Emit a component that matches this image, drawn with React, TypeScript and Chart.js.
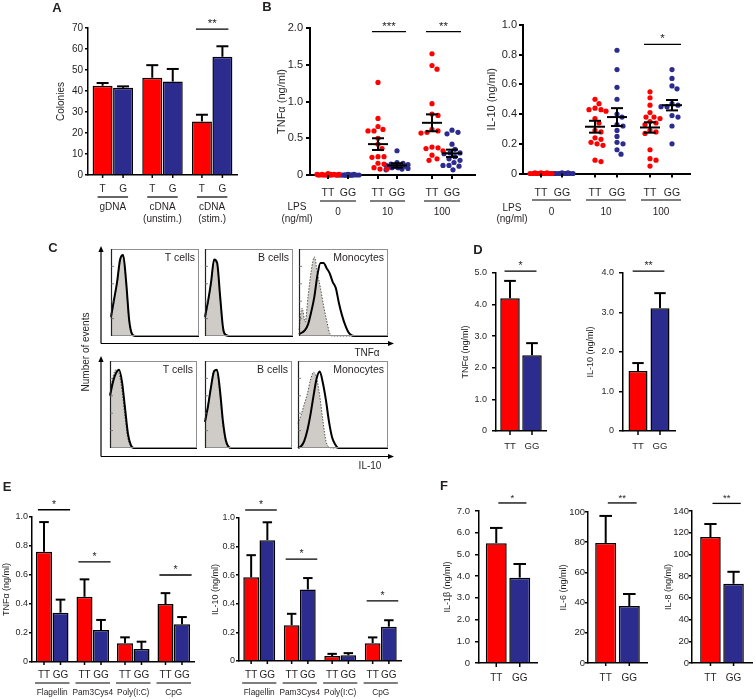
import React, { useEffect, useRef } from "react";
import { Chart, registerables } from "chart.js";

Chart.register(...registerables);

const W = 756;
const H = 699;
const FONT = "'Liberation Sans', Arial, Helvetica, sans-serif";
const RED = "#ff0000";
const BLUE = "#2c2c8e";
const INK = "#231f20";
const FILL = "#cfcbc6";
Chart.defaults.font.family = FONT;

/* ================= DATA ================= */
// Panel A
const aGroups = ["gDNA", "cDNA\n(unstim.)", "cDNA\n(stim.)"];
const aSubLabels = ["T", "G"];
const aT = [42.5, 46.3, 25.5];
const aG = [41.5, 44.5, 56.3];
const aTErr = [1.3, 6.0, 3.2];
const aGErr = [0.7, 6.0, 5.0];
const aTicks = [0, 10, 20, 30, 40, 50, 60, 70];

// Panel B
const bGroupLabels = ["0", "10", "100"];
const bSubLabels = ["TT", "GG", "TT", "GG", "TT", "GG"];
const bTnfTicks = [0, 0.5, 1.0, 1.5, 2.0];
const bIl10Ticks = [0, 0.2, 0.4, 0.6, 0.8, 1.0];
const bTnfTT0 = [0.01, 0, 0.01, 0, 0, 0.01, 0, 0, 0.02, 0, 0, 0.01, 0, 0, 0, 0.01, 0];
const bTnfGG0 = [0, 0, 0, 0.01, 0, 0, 0, 0, 0.01, 0, 0, 0, 0, 0, 0, 0];
const bTnfTT10 = [1.26, 0.77, 0.66, 0.62, 0.6, 0.6, 0.5, 0.42, 0.36, 0.25, 0.25, 0.24, 0.16, 0.15, 0.1, 0.08, 0.08];
const bTnfGG10 = [0.33, 0.17, 0.16, 0.15, 0.14, 0.13, 0.13, 0.12, 0.12, 0.11, 0.1, 0.1, 0.09, 0.08, 0.07];
const bTnfTT100 = [1.65, 1.49, 1.44, 0.97, 0.83, 0.81, 0.62, 0.6, 0.58, 0.57, 0.38, 0.37, 0.36, 0.33, 0.27, 0.22, 0.2];
const bTnfGG100 = [0.61, 0.58, 0.56, 0.42, 0.35, 0.3, 0.3, 0.29, 0.25, 0.22, 0.2, 0.17, 0.13, 0.13, 0.12, 0.07];
const bTnfMean = [0, 0, 0.42, 0.13, 0.71, 0.295];
const bTnfSem = [0, 0, 0.08, 0.03, 0.115, 0.05];
const bIl10TT0 = [0, 0, 0.005, 0, 0, 0, 0.005, 0, 0, 0, 0, 0.005, 0, 0, 0, 0, 0];
const bIl10GG0 = [0, 0, 0, 0.005, 0, 0, 0, 0, 0, 0.005, 0, 0, 0, 0];
const bIl10TT10 = [0.5, 0.47, 0.44, 0.43, 0.43, 0.42, 0.37, 0.34, 0.29, 0.28, 0.24, 0.23, 0.21, 0.2, 0.19, 0.09, 0.08];
const bIl10GG10 = [0.83, 0.7, 0.58, 0.5, 0.4, 0.38, 0.33, 0.32, 0.29, 0.25, 0.21, 0.2, 0.16, 0.13];
const bIl10TT100 = [0.55, 0.51, 0.46, 0.41, 0.38, 0.38, 0.37, 0.35, 0.34, 0.33, 0.29, 0.28, 0.27, 0.16, 0.1, 0.09, 0.05];
const bIl10GG100 = [0.7, 0.64, 0.59, 0.57, 0.47, 0.46, 0.45, 0.45, 0.39, 0.38, 0.32, 0.2];
const bIl10Mean = [0, 0, 0.315, 0.38, 0.31, 0.46];
const bIl10Sem = [0, 0, 0.04, 0.06, 0.035, 0.035];

// Panel C (histogram heights, % of max, left to right)
const cTnfTStim = [22, 42, 62, 88, 93, 62, 18, 2, 0, 0, 0, 0, 0, 0, 0, 0, 0, 0, 0, 0, 0, 0, 0, 0, 0, 0, 0, 0, 0, 0];
const cTnfTCtrl = [20, 40, 60, 86, 92, 60, 16, 1, 0, 0, 0, 0, 0, 0, 0, 0, 0, 0, 0, 0, 0, 0, 0, 0, 0, 0, 0, 0, 0, 0];
const cTnfBStim = [22, 40, 62, 88, 84, 45, 8, 1, 0, 0, 0, 0, 0, 0, 0, 0, 0, 0, 0, 0, 0, 0, 0, 0, 0, 0, 0, 0, 0, 0];
const cTnfBCtrl = [20, 38, 60, 86, 82, 42, 6, 0, 0, 0, 0, 0, 0, 0, 0, 0, 0, 0, 0, 0, 0, 0, 0, 0, 0, 0, 0, 0, 0, 0];
const cTnfMStim = [2, 4, 7, 14, 28, 45, 70, 84, 84, 78, 72, 62, 55, 38, 24, 13, 5, 1, 0, 0, 0, 0, 0, 0, 0, 0, 0, 0, 0, 0];
const cTnfMCtrl = [7, 32, 16, 47, 75, 91, 72, 55, 35, 18, 3, 0, 0, 0, 0, 0, 0, 0, 0, 0, 0, 0, 0, 0, 0, 0, 0, 0, 0, 0];
const cIl10TStim = [60, 76, 86, 90, 76, 46, 16, 3, 0, 0, 0, 0, 0, 0, 0, 0, 0, 0, 0, 0, 0, 0, 0, 0, 0, 0, 0, 0, 0, 0];
const cIl10TCtrl = [62, 82, 90, 86, 66, 36, 10, 2, 0, 0, 0, 0, 0, 0, 0, 0, 0, 0, 0, 0, 0, 0, 0, 0, 0, 0, 0, 0, 0, 0];
const cIl10BStim = [30, 48, 70, 88, 90, 66, 30, 8, 1, 0, 0, 0, 0, 0, 0, 0, 0, 0, 0, 0, 0, 0, 0, 0, 0, 0, 0, 0, 0, 0];
const cIl10BCtrl = [30, 50, 72, 90, 88, 62, 26, 6, 0, 0, 0, 0, 0, 0, 0, 0, 0, 0, 0, 0, 0, 0, 0, 0, 0, 0, 0, 0, 0, 0];
const cIl10MStim = [0, 2, 8, 20, 38, 60, 80, 88, 75, 55, 30, 12, 4, 0, 0, 0, 0, 0, 0, 0, 0, 0, 0, 0, 0, 0, 0, 0, 0, 0];
const cIl10MCtrl = [28, 38, 50, 62, 78, 87, 80, 60, 32, 8, 1, 0, 0, 0, 0, 0, 0, 0, 0, 0, 0, 0, 0, 0, 0, 0, 0, 0, 0, 0];

// Panel D
const dSubLabels = ["TT", "GG"];
const dTnf = [4.2, 2.4];
const dTnfErr = [0.55, 0.38];
const dIl10 = [1.52, 3.11];
const dIl10Err = [0.2, 0.38];
const dTnfTicks = [0, 1, 2, 3, 4, 5];
const dIl10Ticks = [0, 1, 2, 3, 4];

// Panel E
const eGroups = ["Flagellin", "Pam3Cys4", "Poly(I:C)", "CpG"];
const eTnfTT = [0.76, 0.45, 0.13, 0.4];
const eTnfTTErr = [0.205, 0.12, 0.04, 0.075];
const eTnfGG = [0.34, 0.22, 0.09, 0.26];
const eTnfGGErr = [0.09, 0.07, 0.05, 0.05];
const eIl10TT = [0.585, 0.25, 0.035, 0.125];
const eIl10TTErr = [0.155, 0.08, 0.015, 0.04];
const eIl10GG = [0.845, 0.5, 0.04, 0.24];
const eIl10GGErr = [0.125, 0.08, 0.015, 0.045];
const eTicks = [0, 0.2, 0.4, 0.6, 0.8, 1.0];

// Panel F
const f1b = [5.52, 3.93];
const f1bErr = [0.7, 0.63];
const f6 = [79.5, 37.7];
const f6Err = [17.9, 8.0];
const f8 = [116, 73];
const f8Err = [12, 11];
const f1bTicks = [0, 1, 2, 3, 4, 5, 6, 7];
const f6Ticks = [0, 20, 40, 60, 80, 100];
const f8Ticks = [0, 20, 40, 60, 80, 100, 120, 140];

/* ================= HELPERS ================= */
const fmtInt = (v: number) => String(Math.round(v));
const fmt1 = (v: number) => (v === 0 ? "0" : v.toFixed(1));

function txt(ctx: any, s: string, x: number, y: number, size: number, o: any = {}) {
  ctx.save();
  ctx.font = `${o.bold ? "bold " : ""}${size}px ${FONT}`;
  ctx.fillStyle = o.color || INK;
  ctx.textAlign = o.align || "center";
  ctx.textBaseline = o.base || "middle";
  ctx.translate(x, y);
  if (o.rot) ctx.rotate(o.rot);
  ctx.fillText(s, 0, 0);
  ctx.restore();
}
function seg(ctx: any, x1: number, y1: number, x2: number, y2: number, w: number, color = "#000") {
  ctx.save();
  ctx.strokeStyle = color;
  ctx.lineWidth = w;
  ctx.beginPath();
  ctx.moveTo(x1, y1);
  ctx.lineTo(x2, y2);
  ctx.stroke();
  ctx.restore();
}
function arrow(ctx: any, x1: number, y1: number, x2: number, y2: number) {
  seg(ctx, x1, y1, x2, y2, 1.2);
  const ang = Math.atan2(y2 - y1, x2 - x1);
  ctx.save();
  ctx.fillStyle = "#000";
  ctx.translate(x2, y2);
  ctx.rotate(ang);
  ctx.beginPath();
  ctx.moveTo(2, 0);
  ctx.lineTo(-4, -2.6);
  ctx.lineTo(-4, 2.6);
  ctx.closePath();
  ctx.fill();
  ctx.restore();
}
function drawExtras(ctx: any, ex?: any[]) {
  (ex || []).forEach((t) => txt(ctx, t.s, t.x, t.y, t.size, t));
}

function baseOptions(rect: any, yw: number) {
  return {
    responsive: false,
    animation: false,
    devicePixelRatio: 1,
    events: [],
    layout: { padding: { left: rect.l - yw, top: rect.t, right: W - rect.r, bottom: H - rect.b } },
    plugins: { legend: { display: false }, tooltip: { enabled: false } },
  };
}

function yScaleOpts(s: any, yw: number) {
  const ticks: number[] = s.ticks;
  return {
    type: "linear",
    position: "left",
    min: ticks[0],
    max: ticks[ticks.length - 1],
    afterBuildTicks: (sc: any) => {
      sc.ticks = ticks.map((v) => ({ value: v }));
    },
    afterFit: (sc: any) => {
      sc.width = yw;
    },
    ticks: {
      callback: (v: any) => s.fmt(Number(v)),
      color: INK,
      font: { family: FONT, size: s.tickSize },
      padding: s.tickPad,
      autoSkip: false,
      maxRotation: 0,
    },
    grid: { display: true, drawOnChartArea: false, drawTicks: true, tickLength: s.tickLen, color: "#000", lineWidth: s.bw },
    border: { display: true, color: "#000", width: s.bw },
    title: { display: true, text: s.title, color: INK, font: { family: FONT, size: s.titleSize }, padding: 0 },
  };
}

function xHidden(type: string, bw: number, extra: any = {}) {
  return {
    type,
    offset: type === "category",
    afterFit: (sc: any) => {
      sc.height = 0;
    },
    ticks: { display: false },
    grid: { display: false },
    border: { display: true, color: "#000", width: bw },
    ...extra,
  };
}

// beeswarm-like horizontal placement (pixel offsets) for a column of points
function swarm(values: number[], ppu: number, diam: number, maxHalf: number) {
  const order = values.map((_, i) => i).sort((a, b) => values[b] - values[a]);
  const placed: { x: number; y: number }[] = [];
  const off = new Array(values.length).fill(0);
  const cands: number[] = [0];
  for (let k = 1; k <= maxHalf; k++) cands.push(k, -k);
  for (const i of order) {
    const y = values[i] * ppu;
    let best = 0;
    let bestScore = -1;
    for (const c of cands) {
      let minD = Infinity;
      for (const p of placed) {
        const d = Math.hypot(p.x - c, p.y - y);
        if (d < minD) minD = d;
      }
      if (minD >= diam) {
        best = c;
        break;
      }
      if (minD > bestScore + 0.01) {
        bestScore = minD;
        best = c;
      }
    }
    off[i] = best;
    placed.push({ x: best, y });
  }
  return off;
}

/* ---------- bar charts ---------- */
function barDeco(s: any) {
  return {
    id: "barDeco",
    afterDatasetsDraw(chart: any) {
      const ctx = chart.ctx;
      const ys = chart.scales.y;
      const base = chart.chartArea.bottom;
      const metas = s.series.map((_: any, di: number) => chart.getDatasetMeta(di));
      metas.forEach((meta: any, di: number) =>
        meta.data.forEach((el: any, j: number) => {
          const v = s.series[di][j];
          const e = s.errs[di][j];
          const yv = ys.getPixelForValue(v);
          const yt = ys.getPixelForValue(v + e);
          const half = el.width * s.capFrac;
          seg(ctx, el.x, yv, el.x, yt, s.errW);
          seg(ctx, el.x - half, yt, el.x + half, yt, s.errW);
          seg(ctx, el.x, base, el.x, base + s.tickLen, s.bw);
          txt(ctx, s.sub[di], el.x, base + s.subDy, s.subSize);
        })
      );
      s.groups.forEach((g: string, j: number) => {
        const x1 = metas[0].data[j].x;
        const x2 = metas[metas.length - 1].data[j].x;
        if (s.underline) {
          const y = base + s.underline.dy;
          seg(ctx, x1 - s.underline.ext, y, x2 + s.underline.ext, y, 1.2);
        }
        if (g) g.split("\n").forEach((t, k) => txt(ctx, t, (x1 + x2) / 2, base + s.groupDy + k * s.groupLineH, s.groupSize));
      });
      (s.sig || []).forEach((q: any) => {
        const e1 = metas[0].data[q.group];
        const e2 = metas[metas.length - 1].data[q.group];
        const y = ys.getPixelForValue(q.level);
        seg(ctx, e1.x - e1.width * s.sigExtL, y, e2.x + e2.width * s.sigExtR, y, 1.3);
        txt(ctx, q.label, (e1.x - e1.width * s.sigExtL + e2.x + e2.width * s.sigExtR) / 2, y - 2, s.sigSize, { base: "alphabetic" });
      });
      drawExtras(ctx, s.extras);
    },
  };
}

function barConfig(s: any) {
  const yw = s.rect.l - s.titleX + s.titleSize * 0.6;
  return {
    type: "bar",
    data: {
      labels: s.groups,
      datasets: s.series.map((vals: number[], i: number) => ({
        data: vals,
        backgroundColor: s.colors[i],
        borderColor: "#000",
        borderWidth: s.barBorder,
        borderSkipped: "bottom",
        categoryPercentage: s.catPct,
        barPercentage: s.barPct,
      })),
    },
    options: {
      ...baseOptions(s.rect, yw),
      scales: { x: xHidden("category", s.bw), y: yScaleOpts(s, yw) },
    },
    plugins: [barDeco(s)],
  };
}

/* ---------- scatter (dot plots) ---------- */
function dotDeco(s: any) {
  return {
    id: "dotDeco",
    afterDatasetsDraw(chart: any) {
      const ctx = chart.ctx;
      const xs = chart.scales.x;
      const ys = chart.scales.y;
      const base = chart.chartArea.bottom;
      const px = s.pos.map((p: number) => xs.getPixelForValue(p));
      px.forEach((x: number, k: number) => {
        seg(ctx, x, base, x, base + s.tickLen, s.bw);
        txt(ctx, s.sub[k], x, base + s.subDy, s.subSize);
        const m = s.mean[k];
        if (m > 0) {
          const ym = ys.getPixelForValue(m);
          const yt = ys.getPixelForValue(m + s.sem[k]);
          const yb = ys.getPixelForValue(m - s.sem[k]);
          seg(ctx, x - 10, ym, x + 10, ym, 2);
          seg(ctx, x, yt, x, yb, 2);
          seg(ctx, x - 6, yt, x + 6, yt, 2);
          seg(ctx, x - 6, yb, x + 6, yb, 2);
        }
      });
      s.groupLabels.forEach((g: string, j: number) => {
        const x1 = px[2 * j] - s.ulExt;
        const x2 = px[2 * j + 1] + s.ulExt;
        seg(ctx, x1, base + s.ulDy, x2, base + s.ulDy, 1.2);
        txt(ctx, g, (x1 + x2) / 2, base + s.groupDy, s.groupSize);
      });
      (s.sig || []).forEach((q: any) => {
        const x1 = px[2 * q.group] - 6;
        const x2 = px[2 * q.group + 1] + 9;
        const y = ys.getPixelForValue(q.level);
        seg(ctx, x1, y, x2, y, 1.3);
        txt(ctx, q.label, (x1 + x2) / 2, y - 2, s.sigSize, { base: "alphabetic" });
      });
      drawExtras(ctx, s.extras);
    },
  };
}

function dotConfig(s: any) {
  const yw = s.rect.l - s.titleX + s.titleSize * 0.6;
  const ticks: number[] = s.ticks;
  const ppu = (s.rect.b - s.rect.t) / (ticks[ticks.length - 1] - ticks[0]);
  return {
    type: "scatter",
    data: {
      datasets: s.series.map((vals: number[], k: number) => {
        const off = swarm(vals, ppu, 5.6, 11);
        return {
          data: vals.map((v, i) => ({ x: s.pos[k] + off[i], y: v })),
          backgroundColor: s.colors[k],
          borderWidth: 0,
          pointRadius: 2.6,
          clip: false,
        };
      }),
    },
    options: {
      ...baseOptions(s.rect, yw),
      scales: {
        x: xHidden("linear", s.bw, { min: 0, max: s.rect.r - s.rect.l }),
        y: yScaleOpts(s, yw),
      },
    },
    plugins: [dotDeco(s)],
  };
}

/* ---------- histograms ---------- */
function histDeco(h: any) {
  return {
    id: "histDeco",
    afterDatasetsDraw(chart: any) {
      const ctx = chart.ctx;
      const a = chart.chartArea;
      ctx.save();
      ctx.strokeStyle = "#8f8f8f";
      ctx.lineWidth = 1;
      ctx.strokeRect(a.left + 0.5, a.top + 0.5, a.right - a.left - 1, a.bottom - a.top - 1);
      ctx.restore();
      seg(ctx, a.left + 0.5, a.top, a.left + 0.5, a.bottom, 1.2, "#222");
      [0.2, 0.4, 0.6, 0.8].forEach((f) => {
        const y = a.bottom - f * (a.bottom - a.top);
        seg(ctx, a.left, y, a.left + 3, y, 0.8, "#666");
      });
      txt(ctx, h.label, a.right - 4, a.top + 9, 10.5, { align: "right" });
      if (h.frame) {
        h.frame.arrows.forEach((ar: number[]) => arrow(ctx, ar[0], ar[1], ar[2], ar[3]));
      }
      drawExtras(ctx, h.extras);
    },
  };
}

function histConfig(h: any) {
  const n = h.stim.length;
  const pts = (arr: number[]) => arr.map((v, i) => ({ x: i, y: v }));
  return {
    type: "line",
    data: {
      datasets: [
        { data: pts(h.stim), borderColor: "#000", borderWidth: 2, pointRadius: 0, fill: false, cubicInterpolationMode: "monotone", clip: false },
        {
          data: pts(h.ctrl),
          borderColor: "#555",
          borderWidth: 1,
          borderDash: [1.5, 1.5],
          backgroundColor: FILL,
          pointRadius: 0,
          fill: "origin",
          cubicInterpolationMode: "monotone",
          clip: false,
        },
      ],
    },
    options: {
      responsive: false,
      animation: false,
      devicePixelRatio: 1,
      events: [],
      layout: { padding: { left: h.rect.l, top: h.rect.t, right: W - h.rect.r, bottom: H - h.rect.b } },
      plugins: { legend: { display: false }, tooltip: { enabled: false } },
      scales: {
        x: { type: "linear", display: false, min: 0, max: n - 1 },
        y: { type: "linear", display: false, min: 0, max: 100 },
      },
    },
    plugins: [histDeco(h)],
  };
}

/* ================= CHART SPECS ================= */
const barCommon = { colors: [RED, BLUE], barBorder: 1.5, errW: 2, capFrac: 0.3, bw: 1.5, fmt: fmt1 };

const CONFIGS: (() => any)[] = [
  // A
  () =>
    barConfig({
      ...barCommon,
      rect: { l: 88, t: 28, r: 237, b: 175 },
      titleX: 61, title: "Colonies", titleSize: 10,
      ticks: aTicks, fmt: fmtInt, tickSize: 10, tickPad: 2, tickLen: 3,
      groups: aGroups, sub: aSubLabels, series: [aT, aG], errs: [aTErr, aGErr],
      catPct: 0.825, barPct: 0.975,
      subDy: 14, subSize: 10, underline: { dy: 22, ext: 5 }, groupDy: 32, groupLineH: 12, groupSize: 10,
      sig: [{ group: 2, label: "**", level: 69.5 }], sigSize: 11.5, sigExtL: 0.3, sigExtR: 0.3,
      extras: [{ s: "A", x: 57, y: 8, size: 13, bold: true }],
    }),
  // B TNF
  () =>
    dotConfig({
      rect: { l: 310, t: 28, r: 475, b: 175 },
      titleX: 282, title: "TNFα (ng/ml)", titleSize: 11,
      ticks: bTnfTicks, fmt: fmt1, tickSize: 11, tickPad: 3, tickLen: 4, bw: 2,
      pos: [18, 38, 68, 87, 122, 142],
      series: [bTnfTT0, bTnfGG0, bTnfTT10, bTnfGG10, bTnfTT100, bTnfGG100],
      colors: [RED, BLUE, RED, BLUE, RED, BLUE],
      mean: bTnfMean, sem: bTnfSem,
      sub: bSubLabels, subDy: 18, subSize: 10.5,
      groupLabels: bGroupLabels, ulDy: 26, ulExt: 8, groupDy: 37, groupSize: 10,
      sig: [{ group: 1, label: "***", level: 1.95 }, { group: 2, label: "**", level: 1.95 }], sigSize: 11.5,
      extras: [
        { s: "B", x: 267, y: 7, size: 13, bold: true },
        { s: "LPS", x: 297, y: 207, size: 10 },
        { s: "(ng/ml)", x: 297, y: 219, size: 10 },
      ],
    }),
  // B IL-10
  () =>
    dotConfig({
      rect: { l: 523, t: 25, r: 690, b: 173.5 },
      titleX: 492, title: "IL-10 (ng/ml)", titleSize: 11,
      ticks: bIl10Ticks, fmt: fmt1, tickSize: 11, tickPad: 2, tickLen: 4, bw: 2,
      pos: [18, 39, 72, 94, 127, 149],
      series: [bIl10TT0, bIl10GG0, bIl10TT10, bIl10GG10, bIl10TT100, bIl10GG100],
      colors: [RED, BLUE, RED, BLUE, RED, BLUE],
      mean: bIl10Mean, sem: bIl10Sem,
      sub: bSubLabels, subDy: 19.5, subSize: 10.5,
      groupLabels: bGroupLabels, ulDy: 26.5, ulExt: 9, groupDy: 38.5, groupSize: 10,
      sig: [{ group: 2, label: "*", level: 0.87 }], sigSize: 11.5,
      extras: [
        { s: "LPS", x: 512, y: 208, size: 10 },
        { s: "(ng/ml)", x: 512, y: 219, size: 10 },
      ],
    }),
  // C top row
  () =>
    histConfig({
      rect: { l: 111, t: 249, r: 199, b: 336 }, stim: cTnfTStim, ctrl: cTnfTCtrl, label: "T cells",
      frame: {
        arrows: [
          [101, 343.5, 101, 248],
          [101, 343.5, 392, 343.5],
          [101, 456.5, 101, 358],
          [101, 456.5, 392, 456.5],
        ],
      },
      extras: [
        { s: "C", x: 53, y: 248, size: 13, bold: true },
        { s: "TNFα", x: 367, y: 353, size: 10 },
        { s: "IL-10", x: 370, y: 466, size: 10 },
        { s: "Number of events", x: 86, y: 352, size: 10, rot: -Math.PI / 2 },
      ],
    }),
  () => histConfig({ rect: { l: 205, t: 249, r: 293, b: 336 }, stim: cTnfBStim, ctrl: cTnfBCtrl, label: "B cells" }),
  () => histConfig({ rect: { l: 299, t: 249, r: 388, b: 336 }, stim: cTnfMStim, ctrl: cTnfMCtrl, label: "Monocytes" }),
  // C bottom row
  () => histConfig({ rect: { l: 110, t: 361, r: 197, b: 448 }, stim: cIl10TStim, ctrl: cIl10TCtrl, label: "T cells" }),
  () => histConfig({ rect: { l: 205, t: 361, r: 292, b: 448 }, stim: cIl10BStim, ctrl: cIl10BCtrl, label: "B cells" }),
  () => histConfig({ rect: { l: 298, t: 361, r: 388, b: 448 }, stim: cIl10MStim, ctrl: cIl10MCtrl, label: "Monocytes" }),
  // D TNF
  () =>
    barConfig({
      ...barCommon,
      rect: { l: 496, t: 273, r: 546, b: 431 },
      titleX: 466, title: "TNFα (ng/ml)", titleSize: 9,
      ticks: dTnfTicks, tickSize: 9, tickPad: 5, tickLen: 4,
      groups: [""], sub: dSubLabels, series: [[dTnf[0]], [dTnf[1]]], errs: [[dTnfErr[0]], [dTnfErr[1]]],
      catPct: 0.88, barPct: 0.886,
      subDy: 15, subSize: 9.5,
      sig: [{ group: 0, label: "*", level: 5.06 }], sigSize: 10.5, sigExtL: 0.28, sigExtR: 0.23,
      extras: [{ s: "D", x: 478, y: 250, size: 13, bold: true }],
    }),
  // D IL-10
  () =>
    barConfig({
      ...barCommon,
      rect: { l: 623, t: 273, r: 675, b: 431 },
      titleX: 591, title: "IL-10 (ng/ml)", titleSize: 9,
      ticks: dIl10Ticks, tickSize: 9, tickPad: 5, tickLen: 4,
      groups: [""], sub: dSubLabels, series: [[dIl10[0]], [dIl10[1]]], errs: [[dIl10Err[0]], [dIl10Err[1]]],
      catPct: 0.846, barPct: 0.864,
      subDy: 15, subSize: 9.5,
      sig: [{ group: 0, label: "**", level: 4.05 }], sigSize: 10.5, sigExtL: 0.28, sigExtR: 0.23,
    }),
  // E TNF
  () =>
    barConfig({
      ...barCommon,
      rect: { l: 32, t: 517, r: 194, b: 662 },
      titleX: 7, title: "TNFα (ng/ml)", titleSize: 9,
      ticks: eTicks, tickSize: 9, tickPad: 1, tickLen: 3,
      groups: eGroups, sub: dSubLabels, series: [eTnfTT, eTnfGG], errs: [eTnfTTErr, eTnfGGErr],
      catPct: 0.815, barPct: 0.97,
      subDy: 13, subSize: 10, underline: { dy: 21, ext: 9 }, groupDy: 31, groupLineH: 10, groupSize: 8.3,
      sig: [
        { group: 0, label: "*", level: 1.05 },
        { group: 1, label: "*", level: 0.69 },
        { group: 3, label: "*", level: 0.6 },
      ],
      sigSize: 10.5, sigExtL: 0.38, sigExtR: 0.6,
      extras: [{ s: "E", x: 7, y: 487, size: 13, bold: true }],
    }),
  // E IL-10
  () =>
    barConfig({
      ...barCommon,
      rect: { l: 239, t: 518, r: 401, b: 661 },
      titleX: 216, title: "IL-10 (ng/ml)", titleSize: 9,
      ticks: eTicks, tickSize: 9, tickPad: 1, tickLen: 3,
      groups: eGroups, sub: dSubLabels, series: [eIl10TT, eIl10GG], errs: [eIl10TTErr, eIl10GGErr],
      catPct: 0.8, barPct: 0.97,
      subDy: 14, subSize: 10, underline: { dy: 22, ext: 9 }, groupDy: 32, groupLineH: 10, groupSize: 8.3,
      sig: [
        { group: 0, label: "*", level: 1.056 },
        { group: 1, label: "*", level: 0.713 },
        { group: 3, label: "*", level: 0.42 },
      ],
      sigSize: 10.5, sigExtL: 0.38, sigExtR: 0.6,
    }),
  // F IL-1b
  () =>
    barConfig({
      ...barCommon,
      rect: { l: 479, t: 511, r: 537, b: 663 },
      titleX: 448, title: "IL-1β (ng/ml)", titleSize: 9,
      ticks: f1bTicks, tickSize: 9.5, tickPad: 5, tickLen: 4,
      groups: [""], sub: dSubLabels, series: [[f1b[0]], [f1b[1]]], errs: [[f1bErr[0]], [f1bErr[1]]],
      catPct: 0.81, barPct: 0.89,
      subDy: 15, subSize: 10,
      sig: [{ group: 0, label: "*", level: 7.37 }], sigSize: 9.5, sigExtL: -0.1, sigExtR: 0.32,
      extras: [{ s: "F", x: 444, y: 486, size: 13, bold: true }],
    }),
  // F IL-6
  () =>
    barConfig({
      ...barCommon,
      rect: { l: 588, t: 512, r: 647, b: 663 },
      titleX: 564, title: "IL-6 (ng/ml)", titleSize: 9,
      ticks: f6Ticks, fmt: fmtInt, tickSize: 9.5, tickPad: 0, tickLen: 3,
      groups: [""], sub: dSubLabels, series: [[f6[0]], [f6[1]]], errs: [[f6Err[0]], [f6Err[1]]],
      catPct: 0.8, barPct: 0.89,
      subDy: 15, subSize: 10,
      sig: [{ group: 0, label: "**", level: 106 }], sigSize: 9.5, sigExtL: -0.1, sigExtR: 0.35,
    }),
  // F IL-8
  () =>
    barConfig({
      ...barCommon,
      rect: { l: 692, t: 511, r: 752, b: 663 },
      titleX: 669, title: "IL-8 (ng/ml)", titleSize: 9,
      ticks: f8Ticks, fmt: fmtInt, tickSize: 9.5, tickPad: 0, tickLen: 3,
      groups: [""], sub: dSubLabels, series: [[f8[0]], [f8[1]]], errs: [[f8Err[0]], [f8Err[1]]],
      catPct: 0.77, barPct: 0.89,
      subDy: 15, subSize: 10,
      sig: [{ group: 0, label: "**", level: 147 }], sigSize: 9.5, sigExtL: -0.1, sigExtR: 0.35,
    }),
];

export default function App() {
  const refs = useRef<(HTMLCanvasElement | null)[]>([]);
  useEffect(() => {
    const charts = CONFIGS.map((mk, i) => new Chart(refs.current[i] as HTMLCanvasElement, mk()));
    return () => charts.forEach((c) => c.destroy());
  }, []);
  return (
    <div style={{ position: "absolute", left: 0, top: 0, width: W, height: H, background: "#fff", overflow: "hidden" }}>
      {CONFIGS.map((_, i) => (
        <canvas
          key={i}
          ref={(el) => {
            refs.current[i] = el;
          }}
          width={W}
          height={H}
          style={{ position: "absolute", left: 0, top: 0, width: W, height: H }}
        />
      ))}
    </div>
  );
}
